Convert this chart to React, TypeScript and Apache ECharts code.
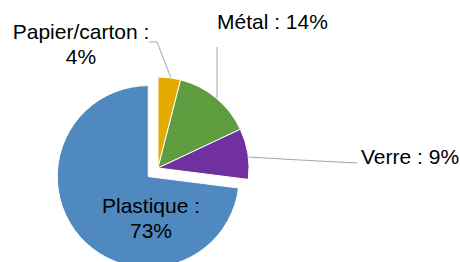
import React, { useEffect, useRef } from "react";
import * as echarts from "echarts";

const categories = ["Papier/carton", "Métal", "Verre", "Plastique"];
const values = [4, 14, 9, 73];
const colors = ["#E3AA00", "#5F9B3F", "#7030A0", "#4F89BF"];
const explodedIndex = 3;

export default function App() {
  const ref = useRef<HTMLDivElement>(null);
  useEffect(() => {
    if (!ref.current) return;
    const chart = echarts.init(ref.current, undefined, { renderer: "svg" });
    const layouts: any[] = [
      { x: 81, y: 44, align: "center", verticalAlign: "middle", labelLinePoints: [[171, 78], [157, 42], [149, 42]] },
      { x: 217, y: 21, align: "left", verticalAlign: "middle", labelLinePoints: [[217, 99], [217, 70], [217, 47]] },
      { x: 361, y: 156, align: "left", verticalAlign: "middle", labelLinePoints: [[248, 157], [300, 160], [357, 163]] },
      {},
    ];
    const formats = ["{b} :\n{c}%", "{b} : {c}%", "{b} : {c}%", "{b} :\n{c}%"];
    const font = "Liberation Sans, Arial, sans-serif";
    const data = categories.map((name, i) => ({
      name,
      value: values[i],
      selected: i === explodedIndex,
      itemStyle: { color: colors[i] },
      label: {
        show: i !== explodedIndex,
        formatter: formats[i],
        position: "outside",
        align: i === 0 ? "center" : "left",
      },
      labelLine: { show: i !== explodedIndex },
    }));
    chart.setOption({
      animation: false,
      graphic: [
        {
          type: "text",
          z: 100,
          style: {
            text: `${categories[explodedIndex]} :\n${values[explodedIndex]}%`,
            x: 151,
            y: 218,
            align: "center",
            verticalAlign: "middle",
            textAlign: "center",
            textVerticalAlign: "middle",
            fontFamily: font,
            fontSize: 21,
            lineHeight: 25,
            fill: "#000000",
          },
        },
      ],
      series: [
        {
          type: "pie",
          center: [158, 168],
          radius: [0, 91],
          startAngle: 90,
          clockwise: true,
          selectedMode: "single",
          selectedOffset: 13,
          avoidLabelOverlap: false,
          itemStyle: { borderColor: "#ffffff", borderWidth: 1 },
          label: {
            show: true,
            fontFamily: font,
            fontSize: 21,
            lineHeight: 25,
            color: "#000000",
          },
          labelLine: {
            show: true,
            lineStyle: { color: "#A6A6A6", width: 1 },
          },
          emphasis: { disabled: true },
          select: {
            itemStyle: { borderColor: "#ffffff", borderWidth: 1 },
            label: { color: "#000000" },
          },
          labelLayout: (params: any) => layouts[params.dataIndex],
          data,
        },
      ],
    });
    return () => chart.dispose();
  }, []);
  return (
    <div
      ref={ref}
      style={{ position: "fixed", left: 0, top: 0, width: 460, height: 262, background: "#fff" }}
    />
  );
}
